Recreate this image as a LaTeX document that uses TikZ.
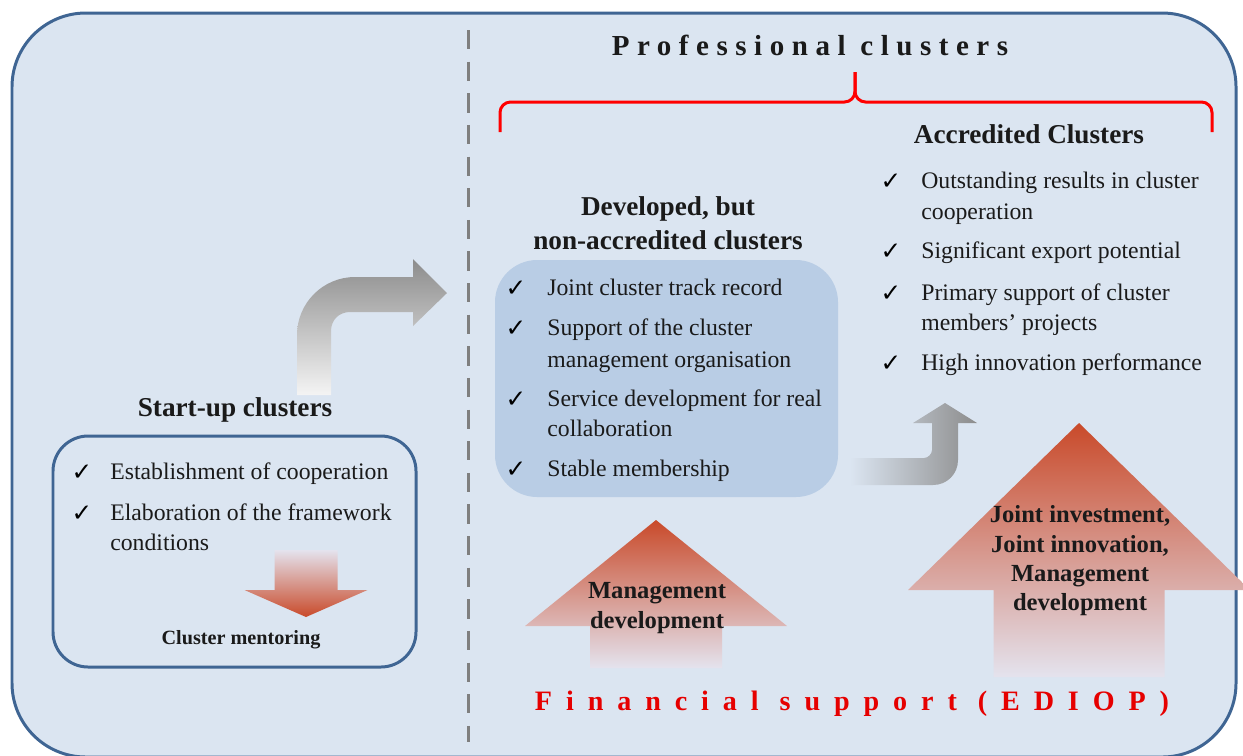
\documentclass[tikz,border=0pt]{standalone}
\usepackage{fontspec}
\setmainfont{Liberation Serif}
\newfontfamily\spacedtitle[LetterSpace=26]{Liberation Serif}
\newfontfamily\spacedfoot[LetterSpace=49.5]{Liberation Serif}
\newfontfamily\symbolfont{DejaVu Sans}

\definecolor{panelblue}{HTML}{DBE5F1}
\definecolor{frameblue}{HTML}{3F6593}
\definecolor{boxblue}{HTML}{B9CDE5}
\definecolor{dashgray}{HTML}{7F7F7F}
\definecolor{bracered}{HTML}{FF0000}
\definecolor{footred}{HTML}{E60000}
\definecolor{inkblack}{HTML}{1A1A1A}
\definecolor{warmdark}{HTML}{C94A2A}
\definecolor{warmmid}{HTML}{EBC4BA}
\definecolor{warmlight}{HTML}{E4E3EE}
\definecolor{greydark}{HTML}{8C8C8C}
\definecolor{greylight}{HTML}{F4F4F4}

\tikzset{
    pics/blockup/.style args={#1/#2/#3/#4/#5}{
        code={
            \path[#5] (0,0) -- (#2,#3) -- (#1,#3) -- (#1,#4) -- (-#1,#4) -- (-#1,#3) -- (-#2,#3) -- cycle;
        }
    },
    frame/.style={draw=frameblue, line width=1.7pt},
    brace/.style={draw=bracered, line width=1.7pt, rounded corners=6pt},
    warmup/.style={top color=warmdark, middle color=warmmid, bottom color=warmlight},
    warmdown/.style={top color=warmlight, middle color=warmmid, bottom color=warmdark},
    item/.style={anchor=west, inner sep=0pt, yshift=-2pt, text=inkblack, font=\fontsize{13.5}{16}\selectfont, text height=1.6ex, text depth=0.4ex},
    chk/.style={inner sep=0pt, yshift=-1pt, text=black, font=\symbolfont\fontsize{14}{16}\selectfont},
    heading/.style={align=center, inner sep=0pt, text=inkblack, font=\fontsize{15.5}{19.3}\selectfont\bfseries},
    arrowtext/.style={align=center, inner sep=0pt, text=inkblack, font=\fontsize{14}{16.8}\selectfont\bfseries}
}

\begin{document}
\begin{tikzpicture}[x=0.02cm,y=-0.02cm]
\useasboundingbox (0,0) rectangle (1243,755);
\draw[frame, fill=panelblue, rounded corners=42pt] (12,13) rectangle (1236,757);
\draw[dashgray, line width=1.7pt, dash pattern=on 11pt off 7pt] (468,30) -- (468,742);

% professional clusters bracket
\draw[brace] (500,132) -- (500,102) -- (855,102) -- (855,72);
\draw[brace] (1212,132) -- (1212,102) -- (855,102) -- (855,72);
\node[inner sep=0pt, text=inkblack, font=\spacedtitle\fontsize{16.5}{19}\selectfont\bfseries] (prof) at (810,45) {Professional clusters};

% boxes
\draw[frame, rounded corners=20pt] (53,436) rectangle (416,667);
\fill[boxblue, rounded corners=24pt] (495,260) rectangle (838,497);

% bent arrows
\shade[top color=greydark, bottom color=greylight]
    (297,395) -- (297,335) .. controls (297,303) and (323,277) .. (355,277)
    -- (413,277) -- (413,259) -- (447,293) -- (413,326) -- (413,312)
    -- (350,312) .. controls (339,312) and (331,320) .. (331,331) -- (331,395) -- cycle;
\shade[left color=panelblue, right color=greydark]
    (850,458) -- (924,458) .. controls (928,458) and (932,454) .. (932,450)
    -- (932,423) -- (913,423) -- (945,403) -- (977,423) -- (958,423)
    -- (958,460) .. controls (958,474) and (947,485) .. (933,485) -- (850,485) -- cycle;

% block arrows
\pic[shift={(306,617)},rotate=180]{blockup=31.5/61.5/27/67/warmdown};
\pic[shift={(656,520)}]{blockup=66/131/106/148/warmup};
\pic[shift={(1079,423)}]{blockup=85.5/171/167/254/warmup};

% headings
\node[heading] (startup) at (235,410) {Start-up clusters};
\node[heading] (developed) at (668,223) {Developed, but\\non-accredited clusters};
\node[heading] (accredited) at (1029,134) {Accredited Clusters};

% check lists
\foreach \y/\c/\t [count=\i] in {471/1/Establishment of cooperation, 512/1/Elaboration of the framework, 542/0/conditions}{
    \node[item] (start\i) at (110,\y) {\t};
    \ifnum\c=1 \node[chk] (starttick\i) at (82,\y) {✓}; \fi
}
\foreach \y/\c/\t [count=\i] in {287/1/Joint cluster track record, 327/1/Support of the cluster, 359/0/management organisation, 398/1/Service development for real, 428/0/collaboration, 468/1/Stable membership}{
    \node[item] (dev\i) at (547,\y) {\t};
    \ifnum\c=1 \node[chk] (devtick\i) at (516,\y) {✓}; \fi
}
\foreach \y/\c/\t [count=\i] in {180/1/Outstanding results in cluster, 211/0/cooperation, 250/1/Significant export potential, 292/1/Primary support of cluster, 322/0/members’ projects, 362/1/High innovation performance}{
    \node[item] (acc\i) at (921,\y) {\t};
    \ifnum\c=1 \node[chk] (acctick\i) at (891,\y) {✓}; \fi
}

% arrow labels
\node[inner sep=0pt, text=inkblack, font=\fontsize{11.5}{14}\selectfont\bfseries] (mentoring) at (241,640) {Cluster mentoring};
\node[arrowtext] (mgmt) at (657,608) {Management\\development};
\node[arrowtext, font=\fontsize{14}{16.7}\selectfont\bfseries] (joint) at (1080,561) {Joint investment,\\Joint innovation,\\Management\\development};

\node[inner sep=0pt, text=footred, font=\spacedfoot\fontsize{16}{19}\selectfont\bfseries] (financial) at (852,704) {Financial support (EDIOP)};
\end{tikzpicture}
\end{document}
